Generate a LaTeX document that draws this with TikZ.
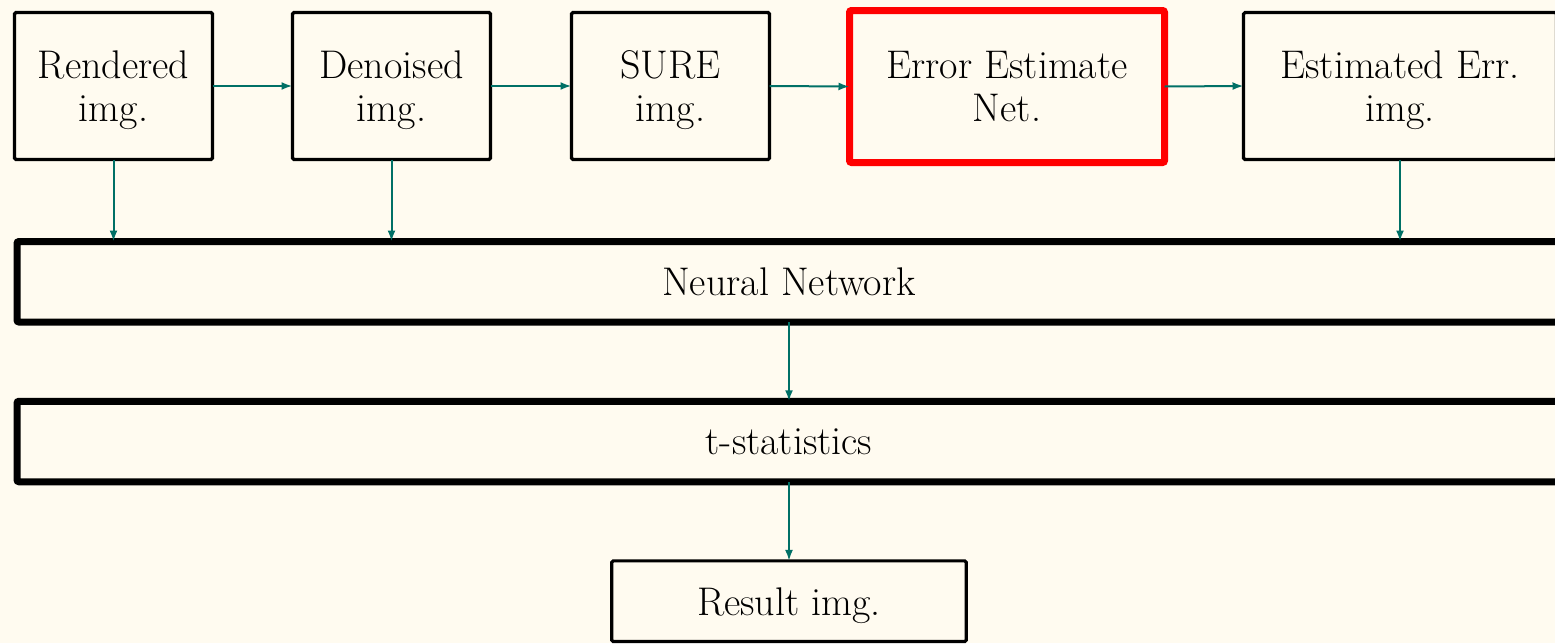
\documentclass[tikz,border=0pt]{standalone}
\usetikzlibrary{arrows.meta}
\definecolor{bgcol}{RGB}{255,251,240}
\definecolor{arrcol}{RGB}{0,112,102}
\newcommand{\nodepth}[1]{\raisebox{0pt}[\height][0pt]{#1}}
\begin{document}
\begin{tikzpicture}[x=1pt,y=-1pt,
  every node/.style={font=\fontsize{40}{43.5}\selectfont, align=center, inner sep=0pt, outer sep=0pt},
  thinbox/.style={draw=black, line width=3.2pt, rounded corners=1.5pt, minimum width=198pt, minimum height=147pt},
  redbox/.style={draw=red, line width=7pt, rounded corners=2pt, minimum width=315pt, minimum height=152pt},
  widebox/.style={draw=black, line width=7pt, rounded corners=2pt, minimum width=1544pt, minimum height=80.5pt},
  resbox/.style={draw=black, line width=3.2pt, rounded corners=1.5pt, minimum width=354.6pt, minimum height=80.7pt},
  conn/.style={draw=arrcol, line width=2pt, -{Latex[length=11pt,width=8pt]}}
]
\fill[bgcol] (0,0) rectangle (1555,643);
\useasboundingbox (0,0) rectangle (1555,643);
\node[thinbox] (ren) at (113.5,86) {Rendered\\\nodepth{img.}};
\node[thinbox] (den) at (391.5,86) {Denoised\\\nodepth{img.}};
\node[thinbox] (sure) at (670.5,86) {SURE\\\nodepth{img.}};
\node[redbox] (een) at (1007,86.5) {Error Estimate\\Net.};
\node[thinbox, minimum width=313pt] (est) at (1400,86) {Estimated Err.\\\nodepth{img.}};
\node[widebox] (nn) at (789,281.75) {Neural Network};
\node[widebox] (ts) at (789,441.5) {t-statistics};
\node[resbox] (res) at (789,601.2) {\nodepth{Result img.}};
\draw[conn] (ren.east) -- (den.west);
\draw[conn] (den.east) -- (sure.west);
\draw[conn] (sure.east) -- (een.west);
\draw[conn] (een.east) -- (est.west);
\draw[conn] (ren.south) -- (ren.south |- nn.north);
\draw[conn] (den.south) -- (den.south |- nn.north);
\draw[conn] (est.south) -- (est.south |- nn.north);
\draw[conn] (nn.south) -- (ts.north);
\draw[conn] (ts.south) -- (res.north);
\end{tikzpicture}
\end{document}
